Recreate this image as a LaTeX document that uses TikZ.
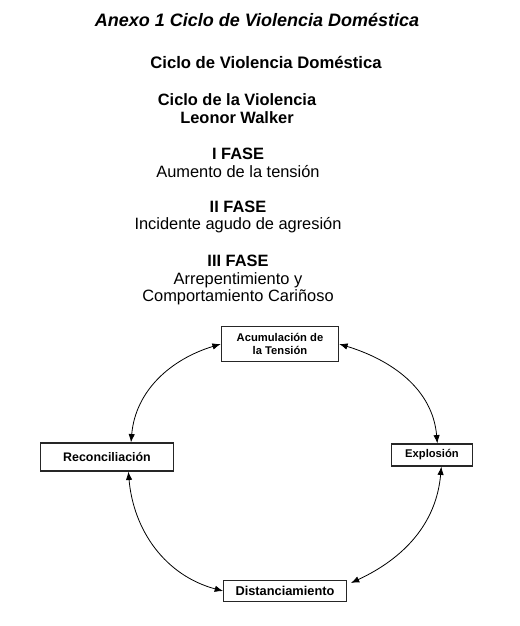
\documentclass[tikz,border=0pt]{standalone}
\usepackage{fontspec}
\setmainfont{Liberation Sans}
\usetikzlibrary{arrows.meta, positioning}

\begin{document}
\begin{tikzpicture}[
    x=0.75pt, y=0.75pt,
    heading/.style={font=\fontsize{13.5}{15}\selectfont\bfseries\itshape},
    subhead/.style={font=\fontsize{12.5}{14}\selectfont\bfseries},
    phase/.style={align=center, inner sep=0pt, font=\fontsize{12.3}{13.4}\selectfont},
    stagebox/.style={rectangle, draw=black!85, line width=0.9pt, align=center, inner sep=1pt, font=\fontsize{8.4}{9.8}\selectfont\bfseries},
    cycle/.style={{Latex[length=2.2mm, width=1.7mm]}-{Latex[length=2.2mm, width=1.7mm]}, line width=0.6pt},
]
    \useasboundingbox (0,0) rectangle (519,-626);

    % Titles
    \node[heading] (title) at (257,-20) {Anexo 1 Ciclo de Violencia Doméstica};
    \node[subhead] (subtitle) at (266,-62) {Ciclo de Violencia Doméstica};

    % Phases of the cycle
    \node[phase, font=\fontsize{12.3}{13.4}\selectfont\bfseries] (walker) at (237,-109) {Ciclo de la Violencia\\Leonor Walker};
    \node[phase] (fase1) at (238,-163) {\textbf{I FASE}\\Aumento de la tensión};
    \node[phase] (fase2) at (238,-217) {\textbf{II FASE}\\Incidente agudo de agresión};
    \node[phase] (fase3) at (238,-280) {\textbf{III FASE}\\Arrepentimiento y\\Comportamiento Cariñoso};

    % Stages
    \node[stagebox, minimum width=88pt, minimum height=26pt] (acum) at (280,-344) {Acumulación de\\la Tensión};
    \node[stagebox, minimum width=100pt, minimum height=21pt, font=\fontsize{9.3}{10}\selectfont\bfseries] (recon) at (107,-457) {Reconciliación};
    \node[stagebox, minimum width=61pt, minimum height=16.5pt] (explo) at (432,-455) {Explosión};
    \node[stagebox, minimum width=92pt, minimum height=16pt, font=\fontsize{9.6}{10}\selectfont\bfseries] (dist) at (285,-591) {Distanciamiento};

    % Cycle arrows
    \draw[cycle] (acum.west) to[out=197, in=85] ([xshift=18pt]recon.north);
    \draw[cycle] (acum.east) to[out=-17, in=95] ([xshift=4pt]explo.north);
    \draw[cycle] ([xshift=16pt]recon.south) to[out=-85, in=165] (dist.west);
    \draw[cycle] ([xshift=7pt]explo.south) to[out=-95, in=25] ([xshift=3pt, yshift=6pt]dist.east);
\end{tikzpicture}
\end{document}
